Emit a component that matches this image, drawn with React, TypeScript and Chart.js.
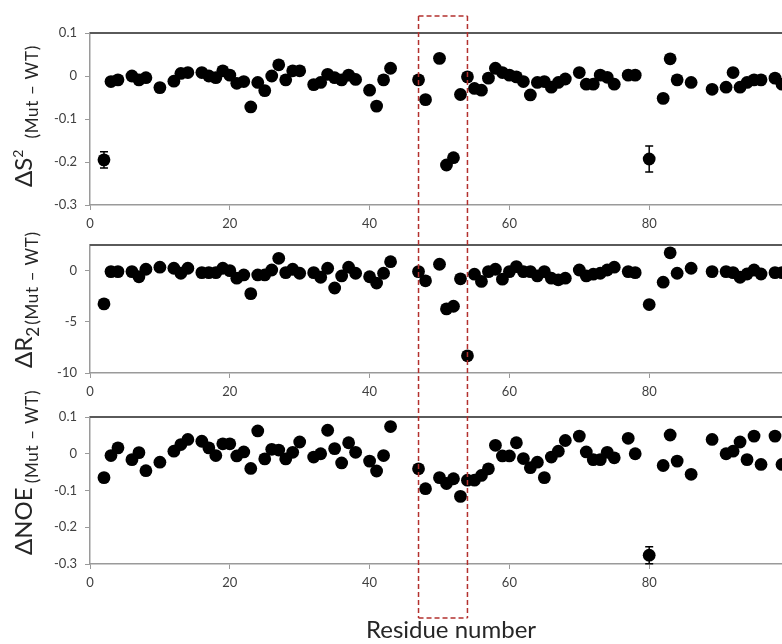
import React, { useEffect, useRef } from 'react';
import { Chart, registerables } from 'chart.js';

Chart.register(...registerables);

// ---------------- data ----------------
const residues = [
  2, 3, 4, 6, 7, 8, 10, 12, 13, 14, 16, 17, 18, 19, 20, 21, 22, 23, 24, 25,
  26, 27, 28, 29, 30, 32, 33, 34, 35, 36, 37, 38, 40, 41, 42, 43, 47, 48, 50, 51,
  52, 53, 54, 55, 56, 57, 58, 59, 60, 61, 62, 63, 64, 65, 66, 67, 68, 70, 71, 72,
  73, 74, 75, 77, 78, 80, 82, 83, 84, 86, 89, 91, 92, 93, 94, 95, 96, 98, 99,
];

const deltaS2 = [
  -0.195, -0.013, -0.009, 0, -0.009, -0.004, -0.027, -0.012, 0.006, 0.008,
  0.008, 0, -0.004, 0.012, 0.002, -0.017, -0.013, -0.072, -0.015, -0.034,
  0, 0.026, -0.009, 0.012, 0.012, -0.02, -0.015, 0.004, -0.004, -0.009,
  0.002, -0.008, -0.033, -0.07, -0.009, 0.018, -0.009, -0.055, 0.041, -0.207,
  -0.19, -0.043, -0.002, -0.029, -0.033, -0.005, 0.018, 0.008, 0.002, -0.002,
  -0.013, -0.044, -0.015, -0.013, -0.026, -0.015, -0.007, 0.008, -0.019, -0.019,
  0.002, -0.003, -0.019, 0.002, 0.002, -0.193, -0.052, 0.04, -0.009, -0.015,
  -0.031, -0.026, 0.008, -0.026, -0.015, -0.009, -0.009, -0.005, -0.019,
];

const deltaR2 = [
  -3.25, -0.1, -0.1, -0.1, -0.6, 0.13, 0.33, 0.23, -0.26, 0.23,
  -0.2, -0.2, -0.2, 0.23, 0, -0.74, -0.42, -2.25, -0.42, -0.42,
  0.06, 1.2, -0.2, 0.13, -0.26, -0.2, -0.65, 0.23, -1.7, -0.52,
  0.33, -0.26, -0.6, -1.22, -0.26, 0.87, -0.1, -1.0, 0.62, -3.74,
  -3.48, -0.8, -8.32, -0.35, -1.06, -0.1, 0.13, -0.84, -0.1, 0.39,
  -0.1, -0.1, -0.52, -0.1, -0.74, -0.9, -0.74, 0.06, -0.52, -0.35,
  -0.26, 0.06, 0.33, -0.1, -0.2, -3.32, -1.13, 1.74, -0.26, 0.23,
  -0.1, -0.1, -0.2, -0.65, -0.33, 0.06, -0.33, -0.2, -0.2,
];

const deltaNOE = [
  -0.065, -0.005, 0.016, -0.016, 0.003, -0.046, -0.023, 0.007, 0.025, 0.039,
  0.034, 0.016, -0.005, 0.027, 0.027, -0.006, 0.005, -0.04, 0.062, -0.014,
  0.012, 0.01, -0.014, 0.004, 0.032, -0.009, 0, 0.064, 0.014, -0.025,
  0.03, 0.004, -0.02, -0.047, -0.005, 0.074, -0.041, -0.095, -0.065, -0.081,
  -0.068, -0.116, -0.072, -0.072, -0.059, -0.041, 0.023, -0.006, -0.006, 0.03,
  -0.013, -0.038, -0.023, -0.065, -0.009, 0.007, 0.036, 0.048, 0.005, -0.016,
  -0.016, 0.004, -0.011, 0.042, 0, -0.276, -0.032, 0.051, -0.02, -0.056,
  0.039, 0, 0.007, 0.032, -0.016, 0.048, -0.029, 0.048, -0.029,
];

// error bars (residue, half-width)
const errResiduesS2 = [2, 80];
const errValuesS2 = [0.019, 0.03];
const errResiduesR2: number[] = [];
const errValuesR2: number[] = [];
const errResiduesNOE = [80];
const errValuesNOE = [0.023];

// axes
const xMin = 0;
const xMax = 99;
const xTicks = [0, 20, 40, 60, 80];
const yTicksS2 = [-0.3, -0.2, -0.1, 0, 0.1];
const yTicksR2 = [-10, -5, 0];
const yTicksNOE = [-0.3, -0.2, -0.1, 0, 0.1];

// highlighted residue range (dashed box)
const highlightRange = [47, 54];

const xTitle = 'Residue number';

// ---------------- styling / layout ----------------
const FONT = 'Lato, "Liberation Sans", Arial, sans-serif';
const W = 782;
const RECT_TOP = 16;
const RECT_BOTTOM = 618;
const RED = '#b3302e';

type Seg = { t: string; size: number; dy: number; gap?: number; ls?: number };

type PanelCfg = {
  top: number;
  height: number;
  padTop: number;
  padBottom: number;
  seg: [number, number];
  values: number[];
  yMin: number;
  yMax: number;
  yTicks: number[];
  dec: number;
  errRes: number[];
  errVal: number[];
  title: Seg[];
  titleStart: number;
  drawXTitle?: boolean;
};

const SMALL = 17;
const BIG = 24;
const LS = 0.7;

const panels: PanelCfg[] = [
  {
    top: 0, height: 240, padTop: 33, padBottom: 9, seg: [0, 228],
    values: deltaS2, yMin: -0.3, yMax: 0.1, yTicks: yTicksS2, dec: 1,
    errRes: errResiduesS2, errVal: errValuesS2,
    title: [
      { t: '\u0394S', size: BIG, dy: 0 },
      { t: '2', size: 14, dy: -9, gap: 11 },
      { t: '(Mut \u2013 WT)', size: SMALL, dy: 6, ls: LS },
    ],
    titleStart: 18,
  },
  {
    top: 215, height: 190, padTop: 30, padBottom: 6, seg: [228, 400],
    values: deltaR2, yMin: -10, yMax: 2.5, yTicks: yTicksR2, dec: 0,
    errRes: errResiduesR2, errVal: errValuesR2,
    title: [
      { t: '\u0394R', size: BIG, dy: 0 },
      { t: '2', size: SMALL, dy: 7, gap: 2 },
      { t: '(Mut \u2013 WT)', size: SMALL, dy: 6, ls: LS },
    ],
    titleStart: 5,
  },
  {
    top: 387, height: 257, padTop: 30, padBottom: 54, seg: [400, 644],
    values: deltaNOE, yMin: -0.3, yMax: 0.1, yTicks: yTicksNOE, dec: 1,
    errRes: errResiduesNOE, errVal: errValuesNOE,
    title: [
      { t: '\u0394NOE', size: BIG, dy: 0, gap: 4 },
      { t: '(Mut \u2013 WT)', size: SMALL, dy: 6, ls: LS },
    ],
    titleStart: 9,
    drawXTitle: true,
  },
];

const decorPlugin = {
  id: 'decor',
  beforeDatasetsDraw(chart: any, _args: any, opts: any) {
    const cfg: PanelCfg = opts.cfg;
    const { ctx, chartArea } = chart;
    const xs = chart.scales.x;
    const ys = chart.scales.y;
    ctx.save();
    ctx.strokeStyle = '#5a5a5a';
    ctx.lineWidth = 2;
    ctx.beginPath();
    ctx.moveTo(chartArea.left, chartArea.top);
    ctx.lineTo(chartArea.right, chartArea.top);
    ctx.stroke();
    ctx.strokeStyle = '#000';
    ctx.lineWidth = 1.5;
    cfg.errRes.forEach((r, i) => {
      const idx = residues.indexOf(r);
      if (idx < 0) return;
      const v = cfg.values[idx];
      const e = cfg.errVal[i];
      const px = xs.getPixelForValue(r);
      const y1 = ys.getPixelForValue(v + e);
      const y2 = ys.getPixelForValue(v - e);
      ctx.beginPath();
      ctx.moveTo(px, y1);
      ctx.lineTo(px, y2);
      ctx.moveTo(px - 4, y1);
      ctx.lineTo(px + 4, y1);
      ctx.moveTo(px - 4, y2);
      ctx.lineTo(px + 4, y2);
      ctx.stroke();
    });
    ctx.restore();
  },
  afterDraw(chart: any, _args: any, opts: any) {
    const cfg: PanelCfg = opts.cfg;
    const { ctx, chartArea } = chart;
    const xs = chart.scales.x;
    ctx.save();

    // y-axis title (rotated, mixed sizes)
    ctx.fillStyle = '#262626';
    const baseX = 32;
    let pos = 0;
    ctx.translate(baseX, chartArea.bottom - cfg.titleStart);
    ctx.rotate(-Math.PI / 2);
    ctx.textBaseline = 'alphabetic';
    ctx.textAlign = 'left';
    cfg.title.forEach((s) => {
      ctx.font = `${s.size}px ${FONT}`;
      (ctx as any).letterSpacing = `${s.ls ?? 0}px`;
      ctx.fillText(s.t, pos, s.dy);
      pos += ctx.measureText(s.t).width + (s.gap ?? 0);
    });
    (ctx as any).letterSpacing = '0px';
    ctx.setTransform(1, 0, 0, 1, 0, 0);

    // dashed highlight box (segment belonging to this canvas)
    const xl = xs.getPixelForValue(highlightRange[0]);
    const xr = xs.getPixelForValue(highlightRange[1]);
    const segA = Math.max(cfg.seg[0], RECT_TOP);
    const segB = Math.min(cfg.seg[1], RECT_BOTTOM);
    ctx.strokeStyle = RED;
    ctx.lineWidth = 1.5;
    ctx.setLineDash([5, 3]);
    if (segB > segA) {
      ctx.lineDashOffset = segA - RECT_TOP;
      ctx.beginPath();
      ctx.moveTo(xl, segA - cfg.top);
      ctx.lineTo(xl, segB - cfg.top);
      ctx.moveTo(xr, segA - cfg.top);
      ctx.lineTo(xr, segB - cfg.top);
      ctx.stroke();
    }
    ctx.lineDashOffset = 0;
    if (RECT_TOP >= cfg.seg[0] && RECT_TOP < cfg.seg[1]) {
      ctx.beginPath();
      ctx.moveTo(xl, RECT_TOP - cfg.top);
      ctx.lineTo(xr, RECT_TOP - cfg.top);
      ctx.stroke();
    }
    if (RECT_BOTTOM > cfg.seg[0] && RECT_BOTTOM <= cfg.seg[1]) {
      ctx.beginPath();
      ctx.moveTo(xl, RECT_BOTTOM - cfg.top);
      ctx.lineTo(xr, RECT_BOTTOM - cfg.top);
      ctx.stroke();
    }
    ctx.setLineDash([]);

    if (cfg.drawXTitle) {
      ctx.fillStyle = '#262626';
      ctx.font = `24px ${FONT}`;
      ctx.textAlign = 'center';
      ctx.textBaseline = 'alphabetic';
      ctx.fillText(xTitle, 451, 638 - cfg.top);
    }
    ctx.restore();
  },
};

function Panel({ cfg }: { cfg: PanelCfg }) {
  const ref = useRef<HTMLCanvasElement>(null);
  useEffect(() => {
    const fmt = (v: number) => (Math.abs(v) < 1e-9 ? '0' : v.toFixed(cfg.dec));
    const chart = new Chart(ref.current as HTMLCanvasElement, {
      type: 'scatter',
      data: {
        datasets: [
          {
            data: residues.map((r, i) => ({ x: r, y: cfg.values[i] })),
            backgroundColor: '#000',
            borderColor: '#000',
            borderWidth: 0,
            pointRadius: 6.4,
            pointHoverRadius: 6.4,
          },
        ],
      },
      options: {
        responsive: false,
        animation: false,
        events: [],
        layout: {
          autoPadding: false,
          padding: { top: cfg.padTop, bottom: cfg.padBottom, left: 0, right: 0 },
        },
        plugins: {
          legend: { display: false },
          tooltip: { enabled: false },
          decor: { cfg },
        } as any,
        scales: {
          x: {
            type: 'linear',
            min: xMin,
            max: xMax,
            afterBuildTicks: (s: any) => {
              s.ticks = xTicks.map((v) => ({ value: v }));
            },
            afterFit: (s: any) => {
              s.height = 26;
              s.paddingLeft = 0;
              s.paddingRight = 0;
            },
            grid: { drawOnChartArea: false, drawTicks: true, tickLength: 5, color: '#9a9a9a' },
            border: { color: '#9a9a9a', width: 1.5 },
            ticks: {
              padding: 6,
              color: '#404040',
              font: { family: FONT, size: 13 },
              maxRotation: 0,
              callback: (v: any) => String(v),
            },
          },
          y: {
            type: 'linear',
            min: cfg.yMin,
            max: cfg.yMax,
            afterBuildTicks: (s: any) => {
              s.ticks = cfg.yTicks.map((v) => ({ value: v }));
            },
            afterFit: (s: any) => {
              s.width = 90;
            },
            grid: { drawOnChartArea: false, drawTicks: true, tickLength: 5, color: '#9a9a9a' },
            border: { color: '#9a9a9a', width: 1.5 },
            ticks: {
              padding: 8,
              color: '#404040',
              font: { family: FONT, size: 13 },
              callback: (v: any) => fmt(Number(v)),
            },
          },
        },
      },
      plugins: [decorPlugin as any],
    });
    return () => chart.destroy();
  }, [cfg]);
  return (
    <canvas
      ref={ref}
      width={W}
      height={cfg.height}
      style={{ position: 'absolute', left: 0, top: cfg.top, width: W, height: cfg.height }}
    />
  );
}

export default function App() {
  return (
    <div style={{ position: 'absolute', left: 0, top: 0, width: W, height: 644, background: '#fff', overflow: 'hidden' }}>
      {panels.map((p, i) => (
        <Panel key={i} cfg={p} />
      ))}
    </div>
  );
}
